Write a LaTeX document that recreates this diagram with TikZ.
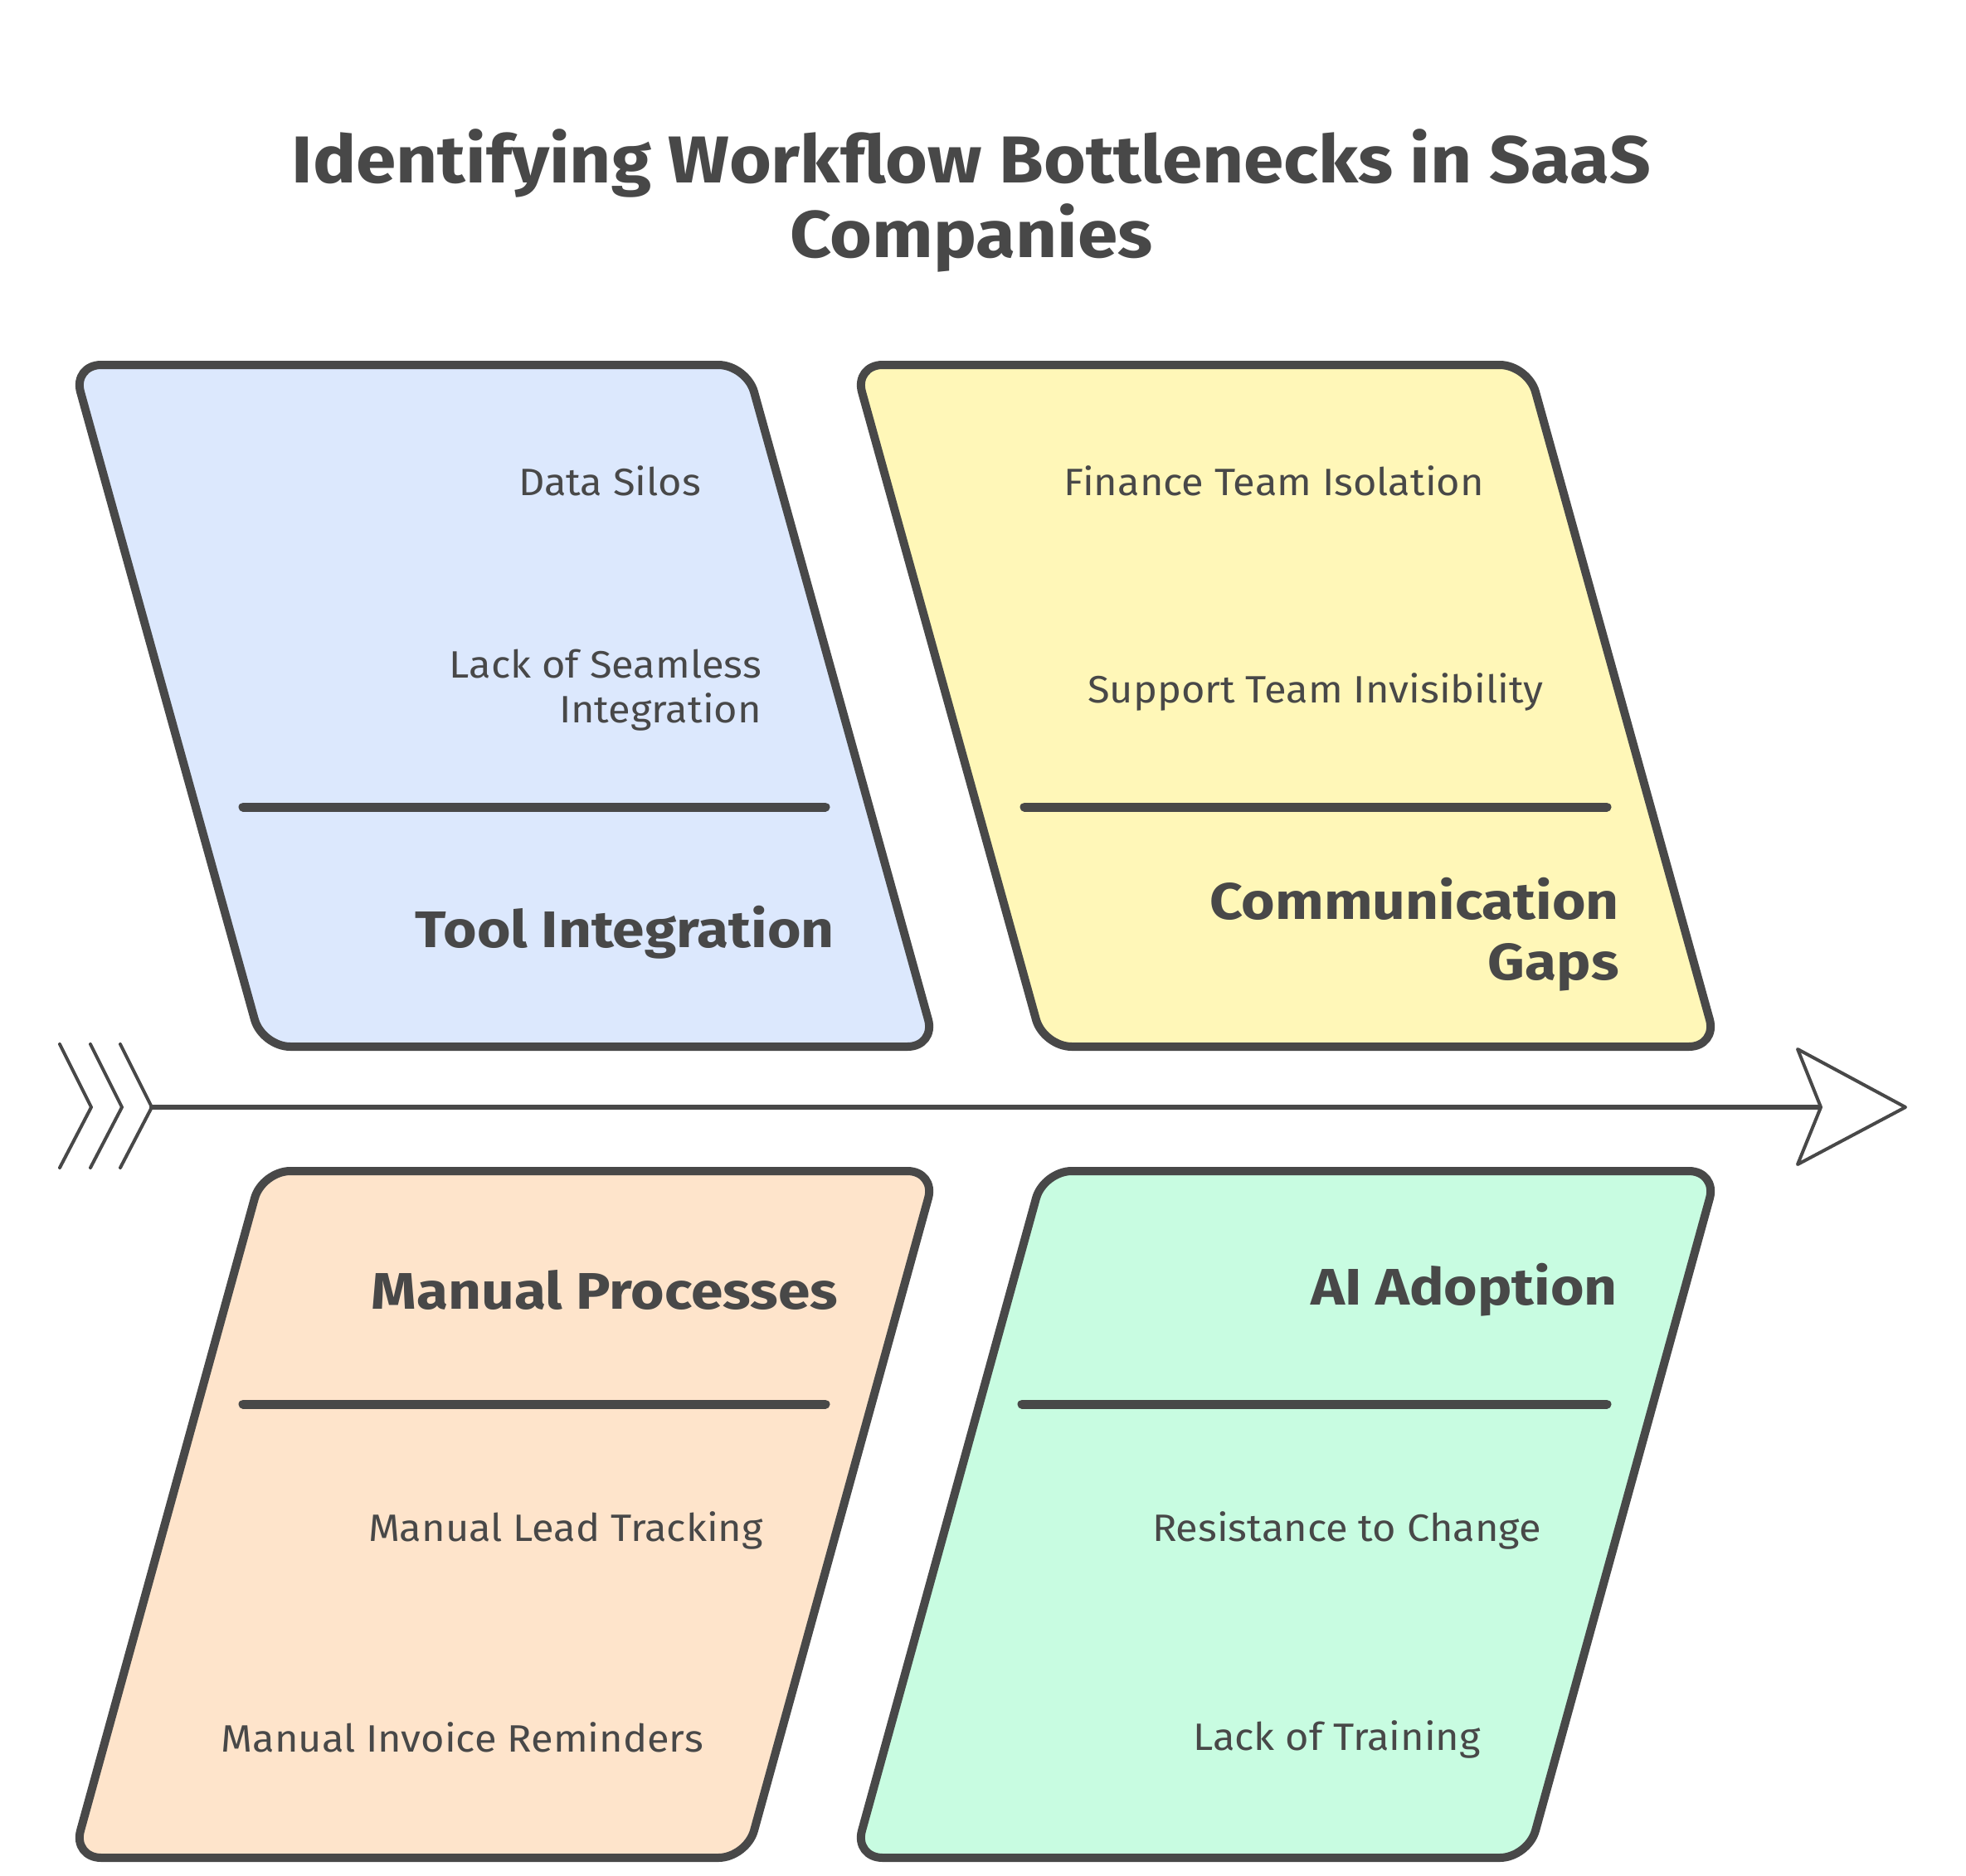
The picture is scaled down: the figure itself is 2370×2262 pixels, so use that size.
\documentclass[tikz,border=0pt]{standalone}
\usepackage{fontspec}
\setmainfont{Fira Sans}
\newfontfamily\titlefont{Fira Sans}[FakeStretch=1.09]
\newfontfamily\headfont{Fira Sans}[FakeStretch=1.12]
\newfontfamily\itemfont{Fira Sans}[FakeStretch=1.06]
\definecolor{ink}{HTML}{484848}
\definecolor{fblue}{HTML}{DCE8FD}
\definecolor{fyellow}{HTML}{FFF7B8}
\definecolor{forange}{HTML}{FEE4CB}
\definecolor{fgreen}{HTML}{C8FCE1}
\tikzset{
  catbox/.style={draw=ink, line width=10pt, rounded corners=34pt, line join=round},
  divider/.style={draw=ink, line width=11pt, line cap=round},
  item/.style={anchor=east, text=ink, align=right, inner sep=0pt, font=\itemfont\fontsize{46}{54}\selectfont},
  head/.style={anchor=east, text=ink, align=right, inner sep=0pt, font=\headfont\fontsize{62}{73}\selectfont\bfseries},
  spine/.style={draw=ink, line width=6pt, line cap=round},
  chev/.style={draw=ink, line width=4pt, line cap=round, line join=round},
}
\begin{document}
\begin{tikzpicture}[x=1pt, y=-1pt]
\useasboundingbox (0,0) rectangle (2370,2262);
% title
\node[text=ink, align=center, inner sep=0pt, font=\titlefont\fontsize{80}{90}\selectfont\bfseries] (title) at (1171,242) {Identifying Workflow Bottlenecks in SaaS\\Companies};
% boxes
\path[catbox, fill=fblue] (88,440) -- (900,440) -- (1128,1262) -- (316,1262) -- cycle;
\path[catbox, fill=fyellow] (1030,440) -- (1842,440) -- (2070,1262) -- (1258,1262) -- cycle;
\path[catbox, fill=forange] (316,1412) -- (1128,1412) -- (900,2240) -- (88,2240) -- cycle;
\path[catbox, fill=fgreen] (1258,1412) -- (2070,1412) -- (1842,2240) -- (1030,2240) -- cycle;
% dividers
\coordinate (d1a) at (293,973); \coordinate (d1b) at (995,973);
\coordinate (d2a) at (1235,973); \coordinate (d2b) at (1937,973);
\coordinate (d3a) at (293,1693); \coordinate (d3b) at (995,1693);
\coordinate (d4a) at (1232,1693); \coordinate (d4b) at (1937,1693);
\draw[divider] (d1a) -- (d1b);
\draw[divider] (d2a) -- (d2b);
\draw[divider] (d3a) -- (d3b);
\draw[divider] (d4a) -- (d4b);
% texts
\node[item] (t1a) at (845,580) {Data Silos};
\node[item] (t1b) at (918,832) {Lack of Seamless\\Integration};
\node[head] (h1) at (1006,1124) {Tool Integration};
\node[item] (t2a) at (1789,580) {Finance Team Isolation};
\node[item] (t2b) at (1861,834) {Support Team Invisibility};
\node[head] (h2) at (1952,1127) {Communication\\Gaps};
\node[head] (h3) at (1010,1555) {Manual Processes};
\node[item] (t3a) at (920,1845) {Manual Lead Tracking};
\node[item] (t3b) at (848,2095) {Manual Invoice Reminders};
\node[head] (h4) at (1950,1555) {AI Adoption};
\node[item] (t4a) at (1858,1845) {Resistance to Change};
\node[item] (t4b) at (1785,2097) {Lack of Training};
% spine
\coordinate (tail) at (183,1335);
\coordinate (head) at (2195,1335);
\draw[spine] (tail) -- (head);
\draw[chev] (72,1259) -- (110,1335) -- (72,1408);
\draw[chev] (109,1259) -- (147,1335) -- (109,1408);
\draw[chev] (145,1259) -- (183,1335) -- (145,1408);
\draw[chev, fill=white] (2167,1265) -- (2297,1335) -- (2167,1404) -- (head) -- cycle;
\end{tikzpicture}
\end{document}
